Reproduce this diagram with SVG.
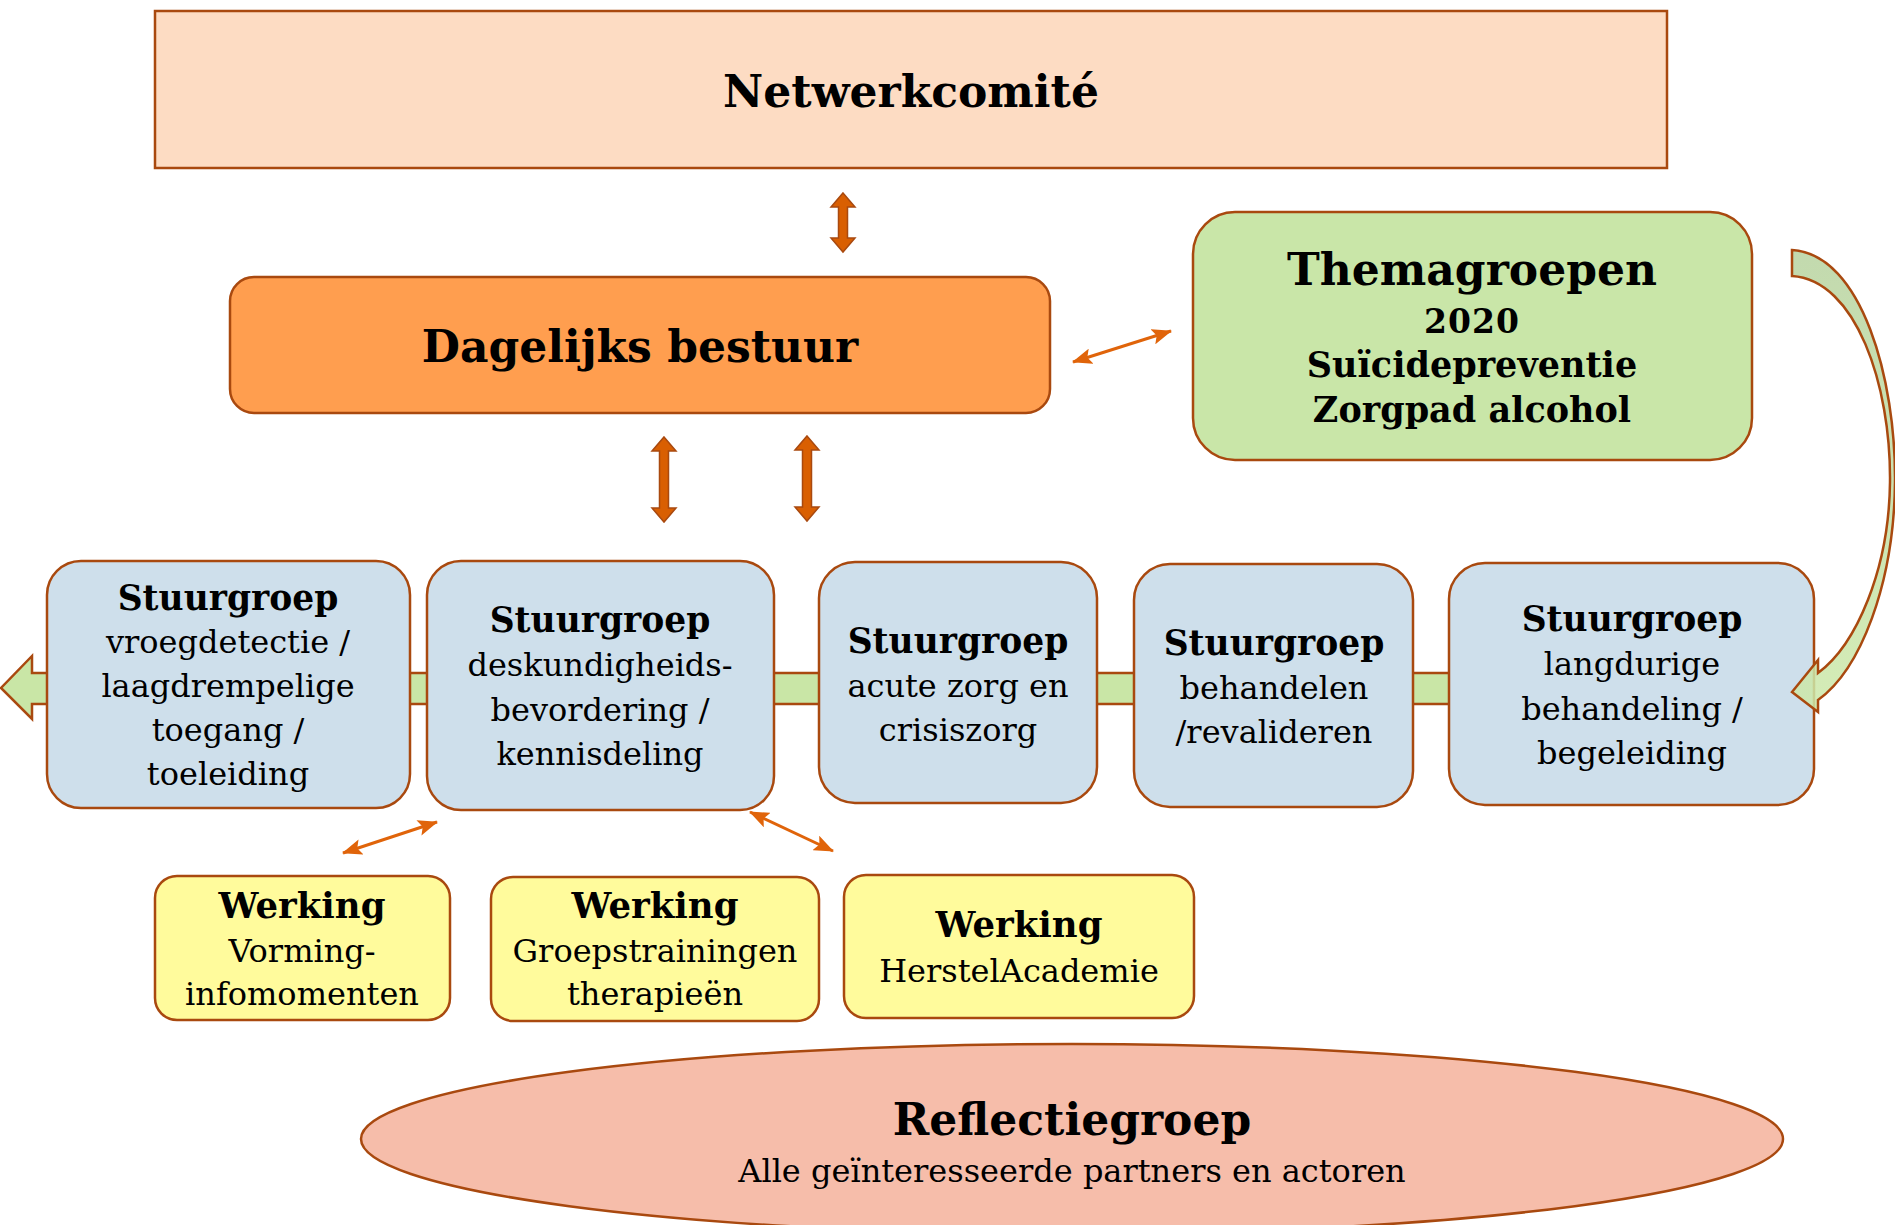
<svg xmlns="http://www.w3.org/2000/svg" width="1895" height="1225" viewBox="0 0 1895 1225">
  <style>
    .box { stroke: #A9490F; stroke-width: 2.5; }
    .big { font-family: "DejaVu Serif", "Liberation Serif", serif; font-weight: bold; font-size: 44px; fill: #000; text-anchor: middle; }
    .hd { font-family: "DejaVu Serif", "Liberation Serif", serif; font-weight: bold; font-size: 34.5px; fill: #000; text-anchor: middle; }
    .sub { font-family: "DejaVu Serif", "Liberation Serif", serif; font-weight: bold; font-size: 35px; fill: #000; text-anchor: middle; }
    .bd { font-family: "DejaVu Serif", "Liberation Serif", serif; font-size: 32px; fill: #000; text-anchor: middle; }
    .thin { stroke: #E0640A; stroke-width: 3; fill: none; marker-start: url(#ah); marker-end: url(#ah); }
    .block { fill: #D95F02; stroke: #A9490F; stroke-width: 1.5; }
  </style>
  <defs>
    <marker id="ah" viewBox="0 0 20 16" refX="19" refY="8" markerWidth="20" markerHeight="16" markerUnits="userSpaceOnUse" orient="auto-start-reverse">
      <path d="M0,0 L20,8 L0,16 L4,8 Z" fill="#E0640A"/>
    </marker>
    <linearGradient id="curveGrad" x1="0" y1="0" x2="0" y2="1">
      <stop offset="0" stop-color="#B8D3A0"/>
      <stop offset="1" stop-color="#CDE9AA"/>
    </linearGradient>
  </defs>

  <!-- green band behind the Stuurgroep row -->
  <g id="band">
    <path d="M1460,673 L32,673 L32,656 L1,688 L32,719 L32,704 L1460,704 Z" fill="#C9E6A6" stroke="#A9490F" stroke-width="2.5"/>
  </g>

  <g id="netwerkcomite">
    <rect class="box" x="155" y="11" width="1512" height="157" fill="#FDDCC3"/>
    <text class="big" x="911" y="107">Netwerkcomité</text>
  </g>

  <g id="dagelijks-bestuur">
    <rect class="box" x="230" y="277" width="820" height="136" rx="24" fill="#FF9E4F"/>
    <text class="big" x="640" y="362">Dagelijks bestuur</text>
  </g>

  <g id="themagroepen">
    <rect class="box" x="1193" y="212" width="559" height="248" rx="42" fill="#C9E6A8"/>
    <text class="big" x="1472" y="285">Themagroepen</text>
    <text class="sub" x="1472" y="333" style="font-size:33px;letter-spacing:1px">2020</text>
    <text class="sub" x="1472" y="377">Suïcidepreventie</text>
    <text class="sub" x="1472" y="422">Zorgpad alcohol</text>
  </g>

  <g id="stuurgroep-vroegdetectie">
    <rect class="box" x="47" y="561" width="363" height="247" rx="34" fill="#CEDFEB"/>
    <text class="hd" x="228" y="610">Stuurgroep</text>
    <text class="bd" x="228" y="653">vroegdetectie /</text>
    <text class="bd" x="228" y="697">laagdrempelige</text>
    <text class="bd" x="228" y="741">toegang /</text>
    <text class="bd" x="228" y="785">toeleiding</text>
  </g>

  <g id="stuurgroep-deskundigheid">
    <rect class="box" x="427" y="561" width="347" height="249" rx="34" fill="#CEDFEB"/>
    <text class="hd" x="600" y="632">Stuurgroep</text>
    <text class="bd" x="600" y="676">deskundigheids-</text>
    <text class="bd" x="600" y="721">bevordering /</text>
    <text class="bd" x="600" y="765">kennisdeling</text>
  </g>

  <g id="stuurgroep-acute-zorg">
    <rect class="box" x="819" y="562" width="278" height="241" rx="36" fill="#CEDFEB"/>
    <text class="hd" x="958" y="653">Stuurgroep</text>
    <text class="bd" x="958" y="697">acute zorg en</text>
    <text class="bd" x="958" y="741">crisiszorg</text>
  </g>

  <g id="stuurgroep-behandelen">
    <rect class="box" x="1134" y="564" width="279" height="243" rx="36" fill="#CEDFEB"/>
    <text class="hd" x="1274" y="655">Stuurgroep</text>
    <text class="bd" x="1274" y="699">behandelen</text>
    <text class="bd" x="1274" y="743">/revalideren</text>
  </g>

  <g id="stuurgroep-langdurig">
    <rect class="box" x="1449" y="563" width="365" height="242" rx="36" fill="#CEDFEB"/>
    <text class="hd" x="1632" y="631">Stuurgroep</text>
    <text class="bd" x="1632" y="675">langdurige</text>
    <text class="bd" x="1632" y="720">behandeling /</text>
    <text class="bd" x="1632" y="764">begeleiding</text>
  </g>

  <g id="werking-vorming">
    <rect class="box" x="155" y="876" width="295" height="144" rx="22" fill="#FFFB9C"/>
    <text class="hd" x="302" y="918" style="font-size:35.5px">Werking</text>
    <text class="bd" x="302" y="962">Vorming-</text>
    <text class="bd" x="302" y="1005">infomomenten</text>
  </g>

  <g id="werking-groepstrainingen">
    <rect class="box" x="491" y="877" width="328" height="144" rx="22" fill="#FFFB9C"/>
    <text class="hd" x="655" y="918" style="font-size:35.5px">Werking</text>
    <text class="bd" x="655" y="962">Groepstrainingen</text>
    <text class="bd" x="655" y="1005">therapieën</text>
  </g>

  <g id="werking-herstelacademie">
    <rect class="box" x="844" y="875" width="350" height="143" rx="22" fill="#FFFB9C"/>
    <text class="hd" x="1019" y="937" style="font-size:35.5px">Werking</text>
    <text class="bd" x="1019" y="982">HerstelAcademie</text>
  </g>

  <g id="reflectiegroep">
    <ellipse class="box" cx="1072" cy="1139" rx="711" ry="95" fill="#F6BDAA"/>
    <text class="big" x="1072" y="1135">Reflectiegroep</text>
    <text class="bd" x="1072" y="1182">Alle geïnteresseerde partners en actoren</text>
  </g>

  <g id="connectors">
    <path class="block" d="M843,193 L855,207 L847.5,207 L847.5,238 L855,238 L843,252 L831,238 L838.5,238 L838.5,207 L831,207 Z"/>
    <path class="block" d="M664,437 L676,451 L668.5,451 L668.5,508 L676,508 L664,522 L652,508 L659.5,508 L659.5,451 L652,451 Z"/>
    <path class="block" d="M807,436 L819,450 L811.5,450 L811.5,507 L819,507 L807,521 L795,507 L802.5,507 L802.5,450 L795,450 Z"/>
    <line class="thin" x1="1073" y1="362" x2="1171" y2="331"/>
    <line class="thin" x1="343" y1="853" x2="437" y2="822"/>
    <line class="thin" x1="750" y1="812" x2="833" y2="851"/>
    <path d="M1792,250 C1862,254 1896,380 1895,482 C1894,585 1860,670 1818,700 L1818,712 L1792,692 L1818,660 L1818,673 C1856,645 1889,570 1890,482 C1891,385 1856,280 1792,276 Z" fill="url(#curveGrad)" fill-opacity="0.85" stroke="#A9490F" stroke-width="2.5"/>
  </g>
</svg>
